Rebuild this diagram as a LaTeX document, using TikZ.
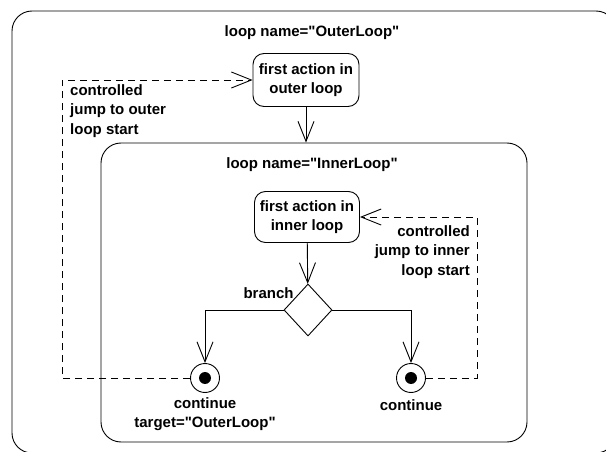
\documentclass[tikz,border=0pt]{standalone}
\usepackage{fontspec}
\setmainfont{Liberation Sans}[Ligatures=TeXOff]
\usetikzlibrary{shapes.geometric,arrows.meta,positioning}

\begin{document}
\begin{tikzpicture}[
    x=1pt, y=-1pt,
    font=\fontsize{15}{19.5}\selectfont\bfseries,
    region/.style={rectangle, draw=black, line width=0.9pt, rounded corners=20pt, inner sep=0pt},
    action/.style={rectangle, draw=black, line width=0.9pt, rounded corners=11pt, align=center, inner sep=0pt},
    branchnode/.style={diamond, draw=black, line width=0.9pt, inner sep=0pt, minimum width=48pt, minimum height=52pt},
    final/.style={circle, draw=black, line width=0.9pt, minimum size=29pt, inner sep=0pt,
        path picture={\fill[black] (path picture bounding box.center) circle (6pt);}},
    lbl/.style={inner sep=0pt},
    flow/.style={-{Straight Barb[length=20pt, width=16pt]}, line width=0.9pt},
    jump/.style={-{Straight Barb[length=20pt, width=16pt]}, line width=0.9pt, dash pattern=on 7pt off 5pt}
]
    \useasboundingbox[fill=white] (0,0) rectangle (606,452);

    % Outer loop
    \node[region, minimum width=604pt, minimum height=442pt] (outerLoop) at (314,232) {};
    \node[lbl] (outerTitle) at (312,33) {loop name="OuterLoop"};
    \node[action, minimum width=106pt, minimum height=53pt] (outerAct) at (306,80) {first action in\\outer loop};

    % Inner loop
    \node[region, minimum width=426pt, minimum height=299pt] (innerLoop) at (314,292.5) {};
    \node[lbl] (innerTitle) at (312,165) {loop name="InnerLoop"};
    \node[action, minimum width=105pt, minimum height=51pt] (innerAct) at (307,217) {first action in\\inner loop};
    \node[branchnode] (branch) at (308,310) {};
    \node[lbl, anchor=south east] (branchLbl) at ([shift={(-2pt,-2pt)}]branch.north west) {branch};

    % Final nodes
    \node[final] (endA) at (205,378) {};
    \node[final] (endB) at (411,378) {};
    \node[lbl, align=center, below=4pt of endA] (endALbl) {continue\\target="OuterLoop"};
    \node[lbl, below=6pt of endB] (endBLbl) {continue};

    % Flow
    \draw[flow] (outerAct) -- (outerAct.south |- innerLoop.north);
    \draw[flow] (innerAct) -- (branch);
    \draw[flow] (branch.west) -| (endA.north);
    \draw[flow] (branch.east) -| (endB.north);

    % Controlled jumps
    \coordinate (jumpA) at (62,378);
    \coordinate (jumpB) at (477,378);
    \draw[jump] (endA.west) -- (jumpA) |- (outerAct.west);
    \draw[jump] (endB.east) -- (jumpB) |- (innerAct.east);
    \node[lbl, align=left, anchor=north west] (jumpALbl) at ([shift={(8pt,-4pt)}]jumpA |- outerAct.west) {controlled\\jump to outer\\loop start};
    \node[lbl, align=right, anchor=north east] (jumpBLbl) at ([shift={(-7pt,-8pt)}]jumpB |- innerAct.east) {controlled\\jump to inner\\loop start};
\end{tikzpicture}
\end{document}
